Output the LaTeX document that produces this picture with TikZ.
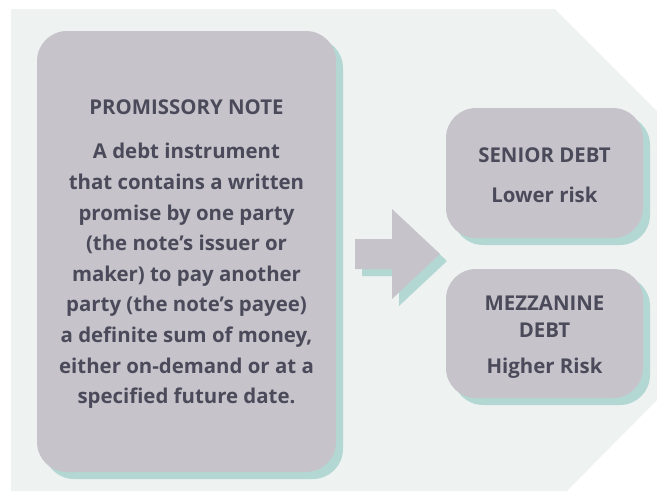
\documentclass[tikz,border=0pt]{standalone}
\usepackage{fontspec}
\setmainfont{Open Sans}
\usetikzlibrary{shadows}
\definecolor{bgc}{HTML}{EEF2F1}
\definecolor{boxc}{HTML}{C6C4CA}
\definecolor{shc}{HTML}{B3D8D3}
\definecolor{txc}{HTML}{4B4A5A}
\tikzset{
  box/.style={fill=boxc, rounded corners=30pt, inner sep=0pt,
    general shadow={fill=shc, shadow xshift=7pt, shadow yshift=-7pt}},
  lbl/.style={text=txc, font=\bfseries\fontsize{20.4}{30.6}\selectfont, align=center, inner sep=0pt},
}
\begin{document}
\begin{tikzpicture}[x=1pt,y=-1pt]
\useasboundingbox (0,0) rectangle (657,491);
\fill[bgc] (11,9) -- (555,9) -- (657,111) -- (657,400) -- (567,491) -- (11,491) -- cycle;
% boxes
\node[box, minimum width=299pt, minimum height=441pt] (pn) at (186.5,251.5) {};
\node[box, minimum width=197pt, minimum height=130pt] (sd) at (544.5,173) {};
\node[box, minimum width=197pt, minimum height=129pt] (md) at (544.5,333.5) {};
% arrow
\fill[shc] (362,246) -- (399,246) -- (399,216) -- (447,261) -- (399,306) -- (399,276) -- (362,276) -- cycle;
\fill[boxc] (355,239) -- (392,239) -- (392,209) -- (440,254) -- (392,299) -- (392,269) -- (355,269) -- cycle;
% texts
\node[lbl] (pnt) at (186.5,107) {PROMISSORY NOTE};
\node[lbl] (pnb) at (186.5,276) {A debt instrument\\that contains a written\\promise by one party\\(the note’s issuer or\\maker) to pay another\\party (the note’s payee)\\a definite sum of money,\\either on-demand or at a\\specified future date.};
\node[lbl] (sdt) at (544.5,155) {SENIOR DEBT};
\node[lbl] (sdb) at (544.5,195) {Lower risk};
\node[lbl] (mdt) at (544.5,316.5) {MEZZANINE\\[-3.6pt]DEBT};
\node[lbl] (mdb) at (544.5,368) {Higher Risk};
\end{tikzpicture}
\end{document}
